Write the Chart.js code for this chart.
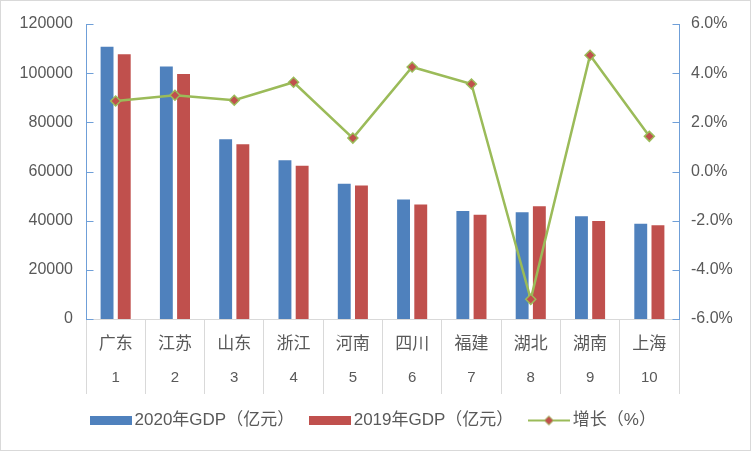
<!DOCTYPE html>
<html>
<head>
<meta charset="utf-8">
<script src="https://cdn.jsdelivr.net/npm/chart.js@4.4.1/dist/chart.umd.min.js"></script>
<style>
  html, body { margin: 0; padding: 0; background: #fff; }
  #wrap { width: 751px; height: 451px; box-sizing: border-box; border: 1px solid #d9d9d9; }
</style>
</head>
<body>
<div id="wrap"><canvas id="gdpChart"></canvas></div>
<script>
// === Data ===
const provinces = ['广东', '江苏', '山东', '浙江', '河南', '四川', '福建', '湖北', '湖南', '上海'];
const ranks = ['1', '2', '3', '4', '5', '6', '7', '8', '9', '10'];
const gdp2020 = [110761, 102719, 73129, 64613, 54997, 48599, 43904, 43443, 41781, 38701];
const gdp2019 = [107671, 99632, 71067, 62352, 54259, 46616, 42395, 45828, 39894, 38155];
const growth = [2.87, 3.10, 2.90, 3.63, 1.36, 4.25, 3.56, -5.20, 4.73, 1.43];
const seriesNames = ['2020年GDP（亿元）', '2019年GDP（亿元）', '增长（%）'];

const blue = '#4f81bd';
const red = '#c0504d';
const green = '#9bbb59';
const axisBlue = '#6f9fd8';
const textGray = '#595959';
const fontFamily = "'Liberation Sans', 'Noto Sans CJK SC', sans-serif";

// === Legend icons ===
function makeBoxIcon(color) {
  const c = document.createElement('canvas');
  c.width = 42; c.height = 9;
  const g = c.getContext('2d');
  g.fillStyle = color;
  g.fillRect(0, 0, 42, 9);
  return c;
}
function makeLineIcon() {
  const c = document.createElement('canvas');
  c.width = 42; c.height = 12;
  const g = c.getContext('2d');
  g.strokeStyle = green; g.lineWidth = 2;
  g.beginPath(); g.moveTo(0, 6); g.lineTo(42, 6); g.stroke();
  g.beginPath();
  g.moveTo(21, 1.5); g.lineTo(25.5, 6); g.lineTo(21, 10.5); g.lineTo(16.5, 6); g.closePath();
  g.fillStyle = red; g.fill();
  g.lineWidth = 1; g.stroke();
  return c;
}
const legendIcons = [makeBoxIcon(blue), makeBoxIcon(red), makeLineIcon()];

// small inward tick marks on both value axes
const innerTicks = {
  id: 'innerTicks',
  afterDatasetsDraw(chart) {
    const ctx = chart.ctx;
    ctx.save();
    ctx.strokeStyle = axisBlue;
    ctx.lineWidth = 1;
    [['y', 1], ['y1', -1]].forEach(([id, dir]) => {
      const s = chart.scales[id];
      const x = Math.round(id === 'y' ? s.right : s.left) + 0.5;
      s.ticks.forEach((t, i) => {
        const py = Math.round(s.getPixelForTick(i)) + 0.5;
        ctx.beginPath();
        ctx.moveTo(x, py);
        ctx.lineTo(x + dir * 7, py);
        ctx.stroke();
      });
    });
    ctx.restore();
  }
};

const chart = new Chart(document.getElementById('gdpChart'), {
  type: 'bar',
  data: {
    labels: provinces,
    datasets: [
      {
        label: seriesNames[0],
        data: gdp2020,
        backgroundColor: blue,
        yAxisID: 'y',
        order: 1,
        barPercentage: 0.75,
        categoryPercentage: 0.58
      },
      {
        label: seriesNames[1],
        data: gdp2019,
        backgroundColor: red,
        yAxisID: 'y',
        order: 1,
        barPercentage: 0.75,
        categoryPercentage: 0.58
      },
      {
        type: 'line',
        label: seriesNames[2],
        data: growth,
        yAxisID: 'y1',
        order: 0,
        borderColor: green,
        borderWidth: 2.5,
        tension: 0,
        pointStyle: 'rectRot',
        pointRadius: 5,
        pointBackgroundColor: red,
        pointBorderColor: green,
        pointBorderWidth: 1.5
      }
    ]
  },
  options: {
    responsive: true,
    maintainAspectRatio: false,
    animation: false,
    layout: { padding: { top: 23, left: 0, right: 0, bottom: 11 } },
    plugins: {
      tooltip: { enabled: false },
      legend: {
        position: 'bottom',
        labels: {
          usePointStyle: true,
          pointStyleWidth: 31,
          boxHeight: 9,
          padding: 20,
          color: textGray,
          font: { family: fontFamily, size: 17 },
          sort: (a, b) => a.datasetIndex - b.datasetIndex,
          generateLabels: (chart) => {
            const items = Chart.defaults.plugins.legend.labels.generateLabels(chart);
            items.forEach(it => { it.pointStyle = legendIcons[it.datasetIndex]; });
            return items;
          }
        }
      }
    },
    scales: {
      x: {
        weight: 0,
        offset: true,
        grid: { drawOnChartArea: false, offset: true, tickLength: 75, color: '#d9d9d9' },
        border: { color: '#d9d9d9' },
        ticks: {
          color: textGray,
          padding: -60,
          maxRotation: 0,
          autoSkip: false,
          font: { family: fontFamily, size: 17, lineHeight: 1.2 }
        },
        afterFit: (axis) => { axis.height = 40; }
      },
      x2: {
        type: 'category',
        labels: ranks,
        position: 'bottom',
        weight: 1,
        offset: true,
        grid: { display: false },
        border: { display: false },
        ticks: {
          color: textGray,
          padding: 2,
          maxRotation: 0,
          autoSkip: false,
          font: { family: fontFamily, size: 15, lineHeight: 1.2 }
        },
        afterFit: (axis) => { axis.height = 33; }
      },
      y: {
        position: 'left',
        min: 0,
        max: 120000,
        grid: { display: false },
        border: { color: axisBlue, width: 1 },
        ticks: {
          stepSize: 20000,
          padding: 5,
          color: textGray,
          font: { family: fontFamily, size: 16 },
          callback: v => String(v)
        },
        afterFit: (axis) => { axis.width = 85; }
      },
      y1: {
        position: 'right',
        min: -6,
        max: 6,
        grid: { display: false },
        border: { color: axisBlue, width: 1 },
        ticks: {
          stepSize: 2,
          padding: 4,
          color: textGray,
          font: { family: fontFamily, size: 16 },
          callback: v => v.toFixed(1) + '%'
        },
        afterFit: (axis) => { axis.width = 71; }
      }
    }
  },
  plugins: [innerTicks]
});
</script>
</body>
</html>
